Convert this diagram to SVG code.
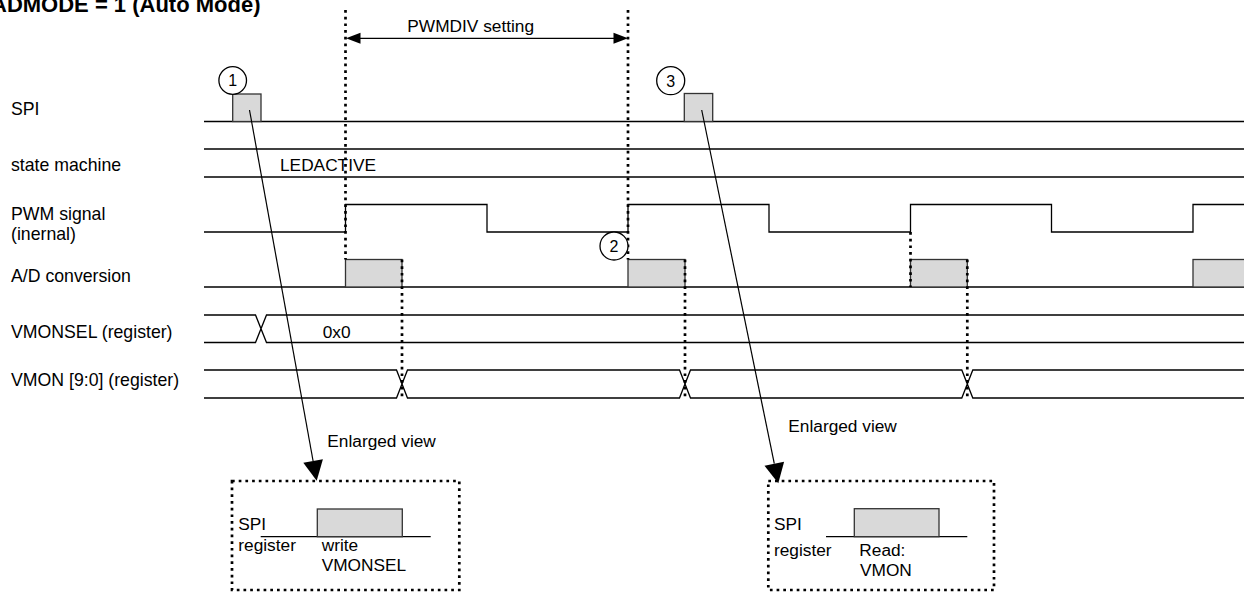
<svg xmlns="http://www.w3.org/2000/svg" width="1244" height="592" viewBox="0 0 1244 592">
<style>
.t{font-family:"Liberation Sans",Arial,sans-serif;font-size:17.3px;fill:#000}
.lbl{font-family:"Liberation Sans",Arial,sans-serif;font-size:17.7px;fill:#000}
.title{font-family:"Liberation Sans",Arial,sans-serif;font-size:22px;font-weight:bold;fill:#000}
.num{font-family:"Liberation Sans",Arial,sans-serif;font-size:16px;fill:#000;text-anchor:middle}
.sig{fill:none;stroke:#000;stroke-width:1.3}
.dot{fill:none;stroke:#000;stroke-width:2.7;stroke-dasharray:2.7 4}
.blk{fill:#d9d9d9;stroke:#333;stroke-width:1.3}
.circ{fill:#fff;stroke:#000;stroke-width:1.3}
.ln{fill:none;stroke:#000;stroke-width:1.2}
.head{fill:#000;stroke:none}
</style>
<rect width="1244" height="592" fill="#fff"/>
<text class="title" x="-9" y="12">ADMODE = 1 (Auto Mode)</text>

<g id="labels">
<text class="lbl" x="11" y="115">SPI</text>
<text class="lbl" x="11" y="171">state machine</text>
<text class="lbl" x="11" y="220">PWM signal</text>
<text class="lbl" x="11" y="240">(inernal)</text>
<text class="lbl" x="11" y="282">A/D conversion</text>
<text class="lbl" x="11" y="338">VMONSEL (register)</text>
<text class="lbl" x="11" y="386">VMON [9:0] (register)</text>
</g>

<g id="spi">
<line class="sig" x1="204" y1="121.5" x2="1244" y2="121.5"/>
<rect class="blk" x="232.7" y="94" width="28.3" height="27.5"/>
<rect class="blk" x="684.3" y="93.5" width="28.4" height="28"/>
</g>

<g id="state-machine">
<line class="sig" x1="204" y1="149" x2="1244" y2="149"/>
<line class="sig" x1="204" y1="177" x2="1244" y2="177"/>
<text class="t" x="280" y="171">LEDACTIVE</text>
</g>

<g id="pwm-signal">
<path class="sig" d="M204,232 H345.5 V204.5 H487 V232 H628 V204.5 H769 V232 H910.5 V204.5 H1051.5 V232 H1193 V204.5 H1244"/>
</g>

<g id="ad-conversion">
<line class="sig" x1="204" y1="287" x2="1244" y2="287"/>
<rect class="blk" x="345.5" y="259.5" width="56.5" height="27.5"/>
<rect class="blk" x="628" y="259.5" width="57" height="27.5"/>
<rect class="blk" x="910.5" y="259.5" width="56.8" height="27.5"/>
<rect class="blk" x="1193" y="259.5" width="60" height="27.5"/>
</g>

<g id="vmonsel">
<path class="sig" d="M204,315 H255.5 L266.5,342.5 H1244 M204,342.5 H255.5 L266.5,315 H1244"/>
<text class="t" x="322.7" y="338">0x0</text>
</g>

<g id="vmon">
<path class="sig" d="M204,370 H396.5 L407.5,398 H679.5 L690.5,370 H961.8 L972.8,398 H1244 M204,398 H396.5 L407.5,370 H679.5 L690.5,398 H961.8 L972.8,370 H1244"/>
</g>

<g id="connectors">
<line class="dot" x1="345.5" y1="10" x2="345.5" y2="259.5"/>
<line class="dot" x1="628" y1="10" x2="628" y2="259.5"/>
<line class="dot" x1="402" y1="259.5" x2="402" y2="398"/>
<line class="dot" x1="685" y1="259.5" x2="685" y2="398"/>
<line class="dot" x1="910.5" y1="232" x2="910.5" y2="287"/>
<line class="dot" x1="967.3" y1="259.5" x2="967.3" y2="398"/>
<line class="ln" x1="358" y1="38.3" x2="616" y2="38.3"/>
<polygon class="head" points="346,38.3 360.5,32.8 360.5,43.8"/>
<polygon class="head" points="628,38.3 613.5,32.8 613.5,43.8"/>
<text class="t" x="407.3" y="32">PWMDIV setting</text>
<line class="ln" x1="249.5" y1="110" x2="313.1" y2="461"/>
<polygon class="head" points="316.7,480.7 322.9,459.2 303.3,462.8"/>
<line class="ln" x1="701.7" y1="110" x2="774.3" y2="463.7"/>
<polygon class="head" points="778.3,483.3 784.1,461.7 764.5,465.7"/>
</g>

<g id="marker-1">
<circle class="circ" cx="232.7" cy="80.5" r="13.8"/>
<text class="num" x="232.7" y="86.3">1</text>
</g>
<g id="marker-2">
<circle class="circ" cx="614" cy="246" r="14"/>
<text class="num" x="614" y="251.8">2</text>
</g>
<g id="marker-3">
<circle class="circ" cx="670.7" cy="80.7" r="14"/>
<text class="num" x="670.7" y="86.5">3</text>
</g>

<g id="enlarged-left">
<text class="t" x="327.3" y="447">Enlarged view</text>
<rect class="dot" x="232" y="481" width="227.3" height="109"/>
<text class="t" x="238.3" y="530">SPI</text>
<line class="sig" x1="260.7" y1="536.7" x2="430.7" y2="536.7"/>
<rect class="blk" x="317.3" y="509" width="85" height="27.7"/>
<text class="t" x="238.3" y="550.5">register</text>
<text class="t" x="321.7" y="550.5">write</text>
<text class="t" x="321.7" y="570.5">VMONSEL</text>
</g>

<g id="enlarged-right">
<text class="t" x="788.3" y="432">Enlarged view</text>
<rect class="dot" x="768.3" y="481" width="225.7" height="109"/>
<text class="t" x="774" y="530">SPI</text>
<line class="sig" x1="826" y1="536.7" x2="967.3" y2="536.7"/>
<rect class="blk" x="854.3" y="508.7" width="84.7" height="28"/>
<text class="t" x="774" y="555.5">register</text>
<text class="t" x="859.3" y="555.5">Read:</text>
<text class="t" x="860" y="575.5">VMON</text>
</g>
</svg>
